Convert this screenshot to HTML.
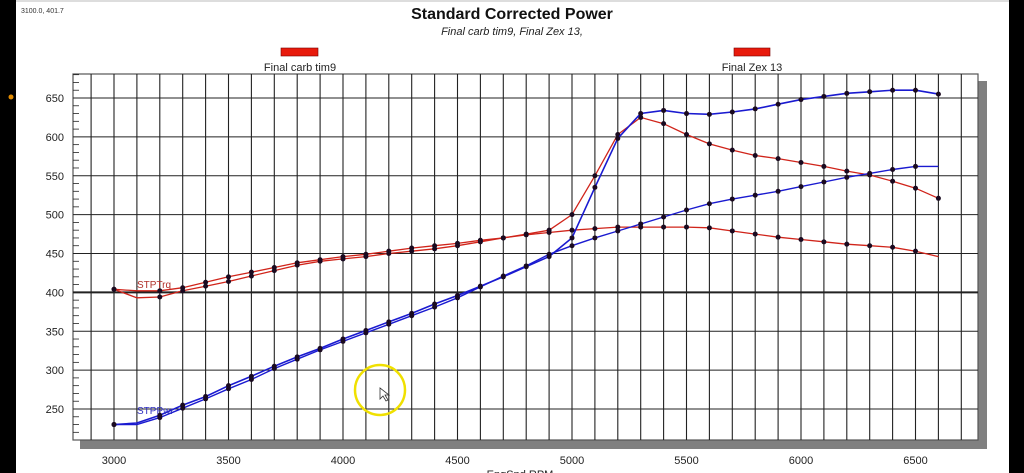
<!DOCTYPE html>
<html><head><meta charset="utf-8"><style>
html,body{margin:0;padding:0;background:#fff;width:1024px;height:473px;overflow:hidden;font-family:"Liberation Sans",sans-serif;}
svg{position:absolute;left:0;top:0}
</style></head><body>
<svg id="s" width="1024" height="473" xmlns="http://www.w3.org/2000/svg">
<rect x="0" y="0" width="1024" height="473" fill="#fff"/>
<rect x="0" y="0" width="16" height="473" fill="#000"/>
<rect x="1009" y="0" width="15" height="473" fill="#000"/>
<rect x="16" y="0" width="993" height="2" fill="#ddd"/>
<circle cx="11" cy="97" r="2.5" fill="#e08a00"/>
<text x="21" y="13" font-size="7" fill="#333">3100.0, 401.7</text>
<text x="512" y="19" font-size="16" font-weight="bold" text-anchor="middle" fill="#111">Standard Corrected Power</text>
<text x="512" y="35" font-size="11" font-style="italic" text-anchor="middle" fill="#222">Final carb tim9, Final Zex 13,</text>
<rect x="281" y="48" width="37" height="8" fill="#e81a0c" stroke="#700" stroke-width="0.6"/>
<text x="300" y="71" font-size="11" text-anchor="middle" fill="#222">Final carb tim9</text>
<rect x="734" y="48" width="36" height="8" fill="#e81a0c" stroke="#700" stroke-width="0.6"/>
<text x="752" y="71" font-size="11" text-anchor="middle" fill="#222">Final Zex 13</text>
<rect x="978" y="81" width="9" height="368" fill="#808080"/>
<rect x="80" y="440" width="907" height="9" fill="#808080"/>
<g id="grid"></g>
<g id="series"></g>
<text x="137" y="288" font-size="10" fill="#b0302a">STPTrq</text>
<text x="137" y="414" font-size="10" fill="#3030c0">STPPwr</text>
<circle cx="380" cy="390" r="25" fill="none" stroke="#f0e000" stroke-width="2.5"/>
<path d="M380 388 l0 11 l3 -3 l3 5 l2 -1 l-3 -5 l4 0 z" fill="#fff" stroke="#333" stroke-width="0.8"/>
<g font-size="11" fill="#222" text-anchor="end" id="yl"></g>
<g font-size="11" fill="#222" text-anchor="middle" id="xl"></g>
<text x="520" y="478" font-size="11" text-anchor="middle" fill="#222">EngSpd RPM</text>
</svg>
<script>
var NS="http://www.w3.org/2000/svg";
function X(r){return 114+(r-3000)*0.229;}
function Y(v){return 98+(650-v)*0.7775;}
function el(p,t,a){var e=document.createElementNS(NS,t);for(var k in a)e.setAttribute(k,a[k]);p.appendChild(e);return e;}
var g=document.getElementById('grid');
el(g,'rect',{x:73,y:74,width:905,height:366,fill:'#fff',stroke:'#555','stroke-width':1.2});
for(var r=2900;r<=6700;r+=100){el(g,'line',{x1:X(r),y1:74,x2:X(r),y2:440,stroke:'#222','stroke-width':1.1});}
for(var v=250;v<=650;v+=50){el(g,'line',{x1:73,y1:Y(v),x2:978,y2:Y(v),stroke:'#222','stroke-width':v==400?2:1.1});}
for(var v=220;v<=680;v+=10){if(v%50)el(g,'line',{x1:73,y1:Y(v),x2:79,y2:Y(v),stroke:'#222','stroke-width':0.8});}
var yl=document.getElementById('yl');
for(var v=250;v<=650;v+=50){var t=el(yl,'text',{x:64,y:Y(v)+4});t.textContent=v;}
var xl=document.getElementById('xl');
for(var r=3000;r<=6500;r+=500){var t=el(xl,'text',{x:X(r),y:464});t.textContent=r;}
var rs=[];for(var r=3000;r<=6600;r+=100)rs.push(r);
var S=[
{c:'#d0241a',w:1.3,d:[404,393,394,402,408,414,421,428,435,440,443,446,450,453,456,460,465,470,475,480,500,550,603,625,617,603,591,583,576,572,567,562,556,551,543,534,521],last:true},
{c:'#d0241a',w:1.3,d:[404,402,402,406,413,420,426,432,438,442,446,449,453,457,460,463,467,470,474,477,480,482,484,484,484,484,483,479,475,471,468,465,462,460,458,453,446],last:false},
{c:'#1a1ad0',w:1.6,d:[230,232,242,255,266,280,292,305,317,328,340,351,362,373,385,396,408,420,433,446,470,535,598,630,634,630,629,632,636,642,648,652,656,658,660,660,655],last:true},
{c:'#1a1ad0',w:1.4,d:[230,230,239,251,263,276,288,302,314,326,337,348,359,370,381,393,407,421,434,449,460,470,479,488,497,506,514,520,525,530,536,542,548,553,558,562,562],last:false}
];
var sg=document.getElementById('series');
S.forEach(function(s){
 var pts=s.d.map(function(v,i){return X(rs[i]).toFixed(1)+','+Y(v).toFixed(1);}).join(' ');
 el(sg,'polyline',{points:pts,fill:'none',stroke:s.c,'stroke-width':s.w});
 s.d.forEach(function(v,i){ if(i==s.d.length-1&&!s.last)return; if(i==1)return;
  el(sg,'circle',{cx:X(rs[i]),cy:Y(v),r:2.5,fill:'#1a0a20'});});
});
</script>
</body></html>
